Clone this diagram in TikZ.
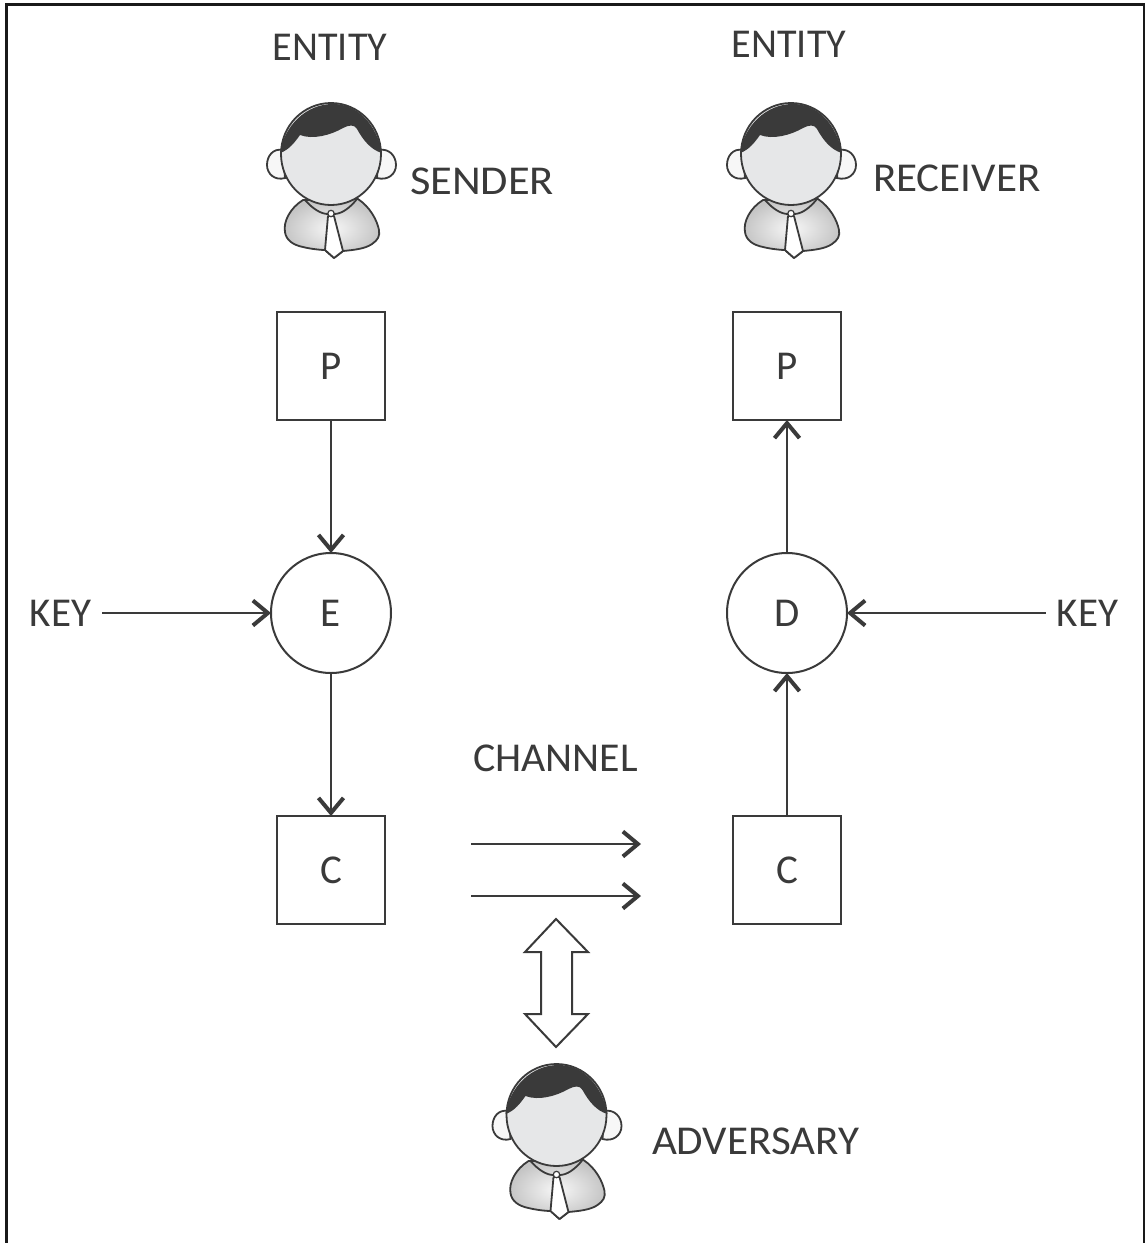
\documentclass[tikz,border=0pt]{standalone}
\usepackage{fontspec}
\setmainfont{Carlito}
\usetikzlibrary{arrows.meta}
\definecolor{ink}{HTML}{3A3A3A}
\definecolor{skin}{HTML}{E6E7E8}
\tikzset{
  x=1pt,y=-1pt,
  lab/.style={inner sep=0pt,outer sep=0pt,text=ink,font=\fontsize{41}{41}\selectfont},
  boxnode/.style={draw=ink,line width=2pt,minimum size=108pt,inner sep=0pt,outer sep=0pt,text=ink,font=\fontsize{41}{41}\selectfont},
  circnode/.style={draw=ink,circle,line width=2pt,minimum size=120pt,inner sep=0pt,outer sep=0pt,text=ink,font=\fontsize{41}{41}\selectfont},
  conn/.style={draw=ink,line width=2pt,-{Straight Barb[length=15pt,width=25pt,line width=4pt]}},
  person/.pic={
    \def\bodypath{(-28,38) .. controls (-41,46) and (-48,60) .. (-46,70) .. controls (-45,78) and (-38,83) .. (-28,85) .. controls (-20,87) and (-10,88) .. (-6,88) -- (3,96) -- (12,89) .. controls (22,88) and (34,87) .. (41,82) .. controls (47,78) and (49,74) .. (48,68) .. controls (46,58) and (39,45) .. (27,37) -- cycle}
    \shade[inner color=gray!6,outer color=gray!46] \bodypath;
    \draw[ink,line width=1.8pt,line join=round] \bodypath;
    \draw[ink,line width=1.8pt,fill=gray!6] (-48,-12) .. controls (-58,-14) and (-64,-6) .. (-64,3) .. controls (-64,12) and (-56,19) .. (-46,16) -- cycle;
    \draw[ink,line width=1.8pt,fill=gray!6] (48,-12) .. controls (58,-14) and (65,-6) .. (65,3) .. controls (65,12) and (57,19) .. (46,16) -- cycle;
    \draw[ink,line width=1.8pt,fill=white,line join=round] (-3,54) -- (-6,88) -- (3,96) -- (12,89) -- (3,54) -- cycle;
    \draw[ink,line width=1.2pt,fill=white] (0,51.5) circle[radius=3.2];
    \draw[ink,line width=1.8pt] (-26,38) .. controls (-18,47) and (-10,52) .. (-3,52);
    \draw[ink,line width=1.8pt] (26,37) .. controls (18,47) and (10,52) .. (3,52);
    \draw[ink,line width=1.8pt,fill=skin] (0,-8) ellipse[x radius=50,y radius=51];
    \fill[ink] (-51,-9) .. controls (-47,-36) and (-25,-58) .. (2,-58) .. controls (28,-58) and (46,-36) .. (51,-9) .. controls (40,-12) and (32,-22) .. (26,-33) .. controls (23,-38) and (18,-37) .. (12,-34) .. controls (0,-27) and (-18,-22) .. (-31,-27) .. controls (-36,-20) and (-42,-12) .. (-51,-9) -- cycle;
  }
}
\begin{document}
\begin{tikzpicture}
\useasboundingbox (0,0) rectangle (1145,1243);
\fill[white] (0,0) rectangle (1145,1243);
\draw[black!90,line width=3pt] (6,1243) -- (6,4.5) -- (1144,4.5) -- (1144,1243);

\pic at (331,162) {person};
\pic at (791,162) {person};
\pic at (556.5,1123) {person};

\node[lab] (ent1) at (330,47) {\addfontfeature{FakeStretch=0.98}ENTITY};
\node[lab] (ent2) at (789,44) {\addfontfeature{FakeStretch=0.98}ENTITY};
\node[lab,anchor=west] (sender) at (410,181) {\addfontfeature{FakeStretch=1.085}SENDER};
\node[lab,anchor=west] (receiver) at (873,178) {\addfontfeature{FakeStretch=1.05}RECEIVER};
\node[lab,anchor=west] (channel) at (473,758) {\addfontfeature{FakeStretch=1.02}CHANNEL};
\node[lab,anchor=west] (adversary) at (652,1141) {\addfontfeature{FakeStretch=1.05}ADVERSARY};
\node[lab,anchor=west] (keyl) at (30,613) {KEY};
\node[lab,anchor=east] (keyr) at (1118,613) {KEY};

\node[boxnode] (p1) at (331,366) {P};
\node[boxnode] (c1) at (331,870) {C};
\node[boxnode] (p2) at (787,366) {P};
\node[boxnode] (c2) at (787,870) {C};
\node[circnode] (e) at (331,613) {E};
\node[circnode] (d) at (787,613) {D};

\draw[conn] (p1) -- (e);
\draw[conn] (e) -- (c1);
\draw[conn] (c2) -- (d);
\draw[conn] (d) -- (p2);
\draw[conn,shorten <=11pt] (keyl) -- (e);
\draw[conn,shorten <=11pt] (keyr) -- (d);

\coordinate (a1s) at (471,844);
\coordinate (a1e) at (641,844);
\coordinate (a2s) at (471,896);
\coordinate (a2e) at (641,896);
\draw[conn] (a1s) -- (a1e);
\draw[conn] (a2s) -- (a2e);

\draw[ink,line width=2pt,line join=miter,fill=white]
  (556,919) -- (588,952) -- (572,952) -- (572,1014) -- (588,1014) -- (556,1047) -- (525,1014) -- (541,1014) -- (541,952) -- (525,952) -- cycle;
\end{tikzpicture}
\end{document}
